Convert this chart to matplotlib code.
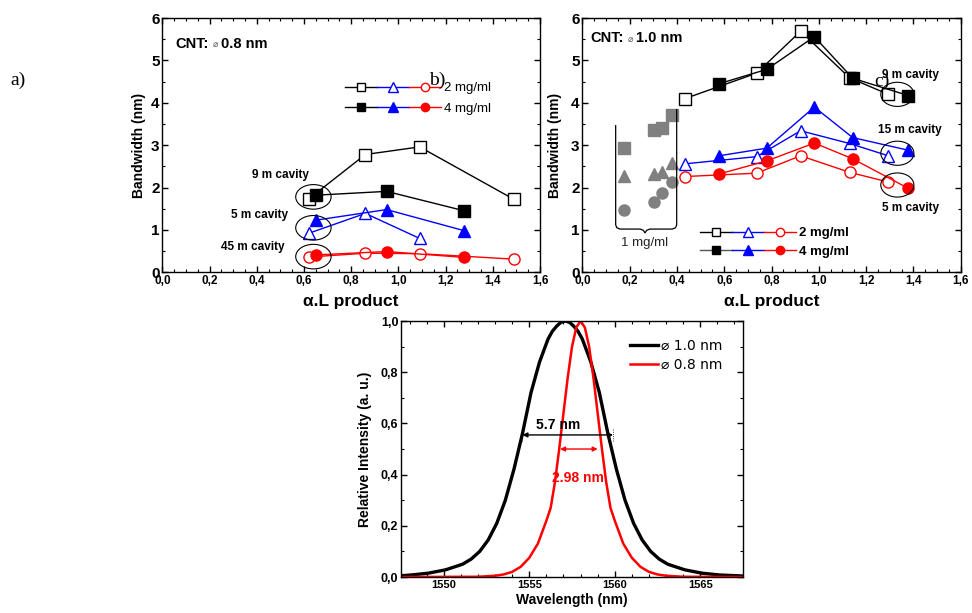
import matplotlib.pyplot as plt
import numpy as np
from matplotlib.patches import Ellipse
from matplotlib.lines import Line2D
from matplotlib.legend_handler import HandlerTuple
from matplotlib.ticker import FuncFormatter, MultipleLocator

plt.rcParams['font.family'] = ['Liberation Sans', 'DejaVu Sans']

# ---- panel b : CNT 0.8 nm ----
b_x_2mg = [0.62, 0.86, 1.09, 1.49]
b_x_2mg_5m = [0.62, 0.86, 1.09]
b_x_4mg = [0.65, 0.95, 1.28]
b_9m_2mg = [1.73, 2.78, 2.96, 1.72]
b_9m_4mg = [1.82, 1.91, 1.45]
b_5m_2mg = [0.92, 1.39, 0.80]
b_5m_4mg = [1.23, 1.48, 0.98]
b_45m_2mg = [0.36, 0.45, 0.44, 0.31]
b_45m_4mg = [0.41, 0.49, 0.35]

# ---- panel c : CNT 1.0 nm ----
c_x_2mg = [0.434, 0.737, 0.923, 1.13, 1.294]
c_x_4mg = [0.578, 0.780, 0.981, 1.143, 1.379]
c_9m_2mg = [4.10, 4.70, 5.69, 4.59, 4.20]
c_9m_4mg = [4.45, 4.79, 5.56, 4.58, 4.17]
c_15m_2mg = [2.56, 2.73, 3.34, 3.04, 2.75]
c_15m_4mg = [2.75, 2.93, 3.90, 3.18, 2.88]
c_5m_2mg = [2.26, 2.34, 2.75, 2.36, 2.13]
c_5m_4mg = [2.32, 2.63, 3.05, 2.68, 1.98]
c_x_1mg = [0.176, 0.305, 0.336, 0.378]
c_sq_1mg = [2.93, 3.35, 3.40, 3.71]
c_tri_1mg = [2.28, 2.32, 2.36, 2.58]
c_circ_1mg = [1.47, 1.67, 1.88, 2.12]

# ---- panel a : spectra ----
black_wl = [1547.5, 1548.1, 1549.1, 1550.1, 1551.1, 1551.6, 1552.1, 1552.6, 1553.1,
            1553.6, 1554.1, 1554.6, 1555.1, 1555.6, 1556.1, 1556.35, 1556.6, 1556.85,
            1557.1, 1557.35, 1557.6, 1557.85, 1558.1, 1558.6, 1559.1, 1559.6, 1560.1,
            1560.6, 1561.1, 1561.6, 1562.1, 1562.6, 1563.1, 1564.1, 1565.1, 1566.1, 1567.5]
black_int = [0.005, 0.008, 0.015, 0.028, 0.05, 0.07, 0.10, 0.145, 0.21,
             0.30, 0.42, 0.56, 0.72, 0.84, 0.93, 0.96, 0.98, 0.995,
             1.0, 0.995, 0.98, 0.96, 0.93, 0.84, 0.72, 0.56, 0.42,
             0.30, 0.21, 0.145, 0.10, 0.07, 0.05, 0.028, 0.015, 0.008, 0.004]
red_wl = [1547.5, 1552.0, 1553.0, 1553.5, 1554.0, 1554.5, 1555.0, 1555.5, 1556.0,
          1556.25, 1556.5, 1556.75, 1557.0, 1557.25, 1557.5, 1557.75, 1558.0,
          1558.25, 1558.5, 1558.75, 1559.0, 1559.25, 1559.5, 1559.75, 1560.0,
          1560.5, 1561.0, 1561.5, 1562.0, 1562.5, 1563.0, 1564.0, 1567.5]
red_int = [0.0, 0.001, 0.005, 0.01, 0.02, 0.04, 0.075, 0.13, 0.22,
           0.27, 0.37, 0.50, 0.64, 0.78, 0.90, 0.975, 1.0,
           0.975, 0.90, 0.78, 0.64, 0.50, 0.37, 0.27, 0.22,
           0.13, 0.075, 0.04, 0.02, 0.01, 0.005, 0.001, 0.0]

BLUE = '#0000ff'
RED = '#ff0000'
GRAY = '#808080'
comma = FuncFormatter(lambda v, p: f"{v:.1f}".replace('.', ','))


def style_axis(ax, xfs, yfs):
    ax.tick_params(which='both', direction='in', top=True, right=True)
    ax.tick_params(which='major', length=4, width=1)
    ax.tick_params(which='minor', length=2, width=0.8)
    for lab in ax.get_xticklabels() + ax.get_yticklabels():
        lab.set_fontweight('bold')
    ax.tick_params(axis='x', labelsize=xfs, pad=2)
    ax.tick_params(axis='y', labelsize=yfs, pad=2)
    for s in ax.spines.values():
        s.set_linewidth(1)


def series(ax, x, y, color, marker, filled, ms):
    ax.plot(x, y, color=color, lw=1, marker=marker, ms=ms,
            mfc=color if filled else 'white', mec=color, mew=1, zorder=3)


def cnt_label(ax, x, y, txt):
    t = ax.text(x, y, "CNT:", transform=ax.transAxes, fontsize=10.5,
                fontweight='bold', va='center')
    t2 = ax.annotate("\u2300", xy=(1, 0.5), xycoords=t, xytext=(3, -1),
                     textcoords='offset points', fontsize=6.5, color='#555555',
                     va='center', family=['DejaVu Sans'])
    ax.annotate(txt, xy=(1, 0.5), xycoords=t2, xytext=(2, 1),
                textcoords='offset points', fontsize=10.5, fontweight='bold', va='center')


def legend_handles(fill, first_color):
    mfc = (lambda c: c) if fill else (lambda c: 'white')
    return (Line2D([], [], color=first_color, lw=1, marker='s', ms=5.5, mfc=mfc('k'), mec='k'),
            Line2D([], [], color=BLUE, lw=1, marker='^', ms=6.5, mfc=mfc(BLUE), mec=BLUE),
            Line2D([], [], color=RED, lw=1, marker='o', ms=6, mfc=mfc(RED), mec=RED))


fig = plt.figure(figsize=(9.72, 6.13), dpi=100)

# ------------------ panel b ------------------
ax1 = fig.add_axes([0.1670, 0.5558, 0.3886, 0.4147])
series(ax1, b_x_2mg, b_9m_2mg, 'k', 's', False, 8)
series(ax1, b_x_4mg, b_9m_4mg, 'k', 's', True, 8)
series(ax1, b_x_2mg_5m, b_5m_2mg, BLUE, '^', False, 9)
series(ax1, b_x_4mg, b_5m_4mg, BLUE, '^', True, 9)
series(ax1, b_x_2mg, b_45m_2mg, RED, 'o', False, 8)
series(ax1, b_x_4mg, b_45m_4mg, RED, 'o', True, 8)
ax1.set_xlim(0, 1.6)
ax1.set_ylim(0, 6)
ax1.xaxis.set_major_locator(MultipleLocator(0.2))
ax1.xaxis.set_minor_locator(MultipleLocator(0.05))
ax1.yaxis.set_major_locator(MultipleLocator(1))
ax1.yaxis.set_minor_locator(MultipleLocator(0.5))
ax1.xaxis.set_major_formatter(comma)
style_axis(ax1, 8.5, 11)
ax1.set_xlabel("\u03b1.L product", fontsize=12.5, fontweight='bold')
ax1.xaxis.set_label_coords(0.5, -0.085)
ax1.set_ylabel("Bandwidth (nm)", fontsize=10, fontweight='bold')
ax1.yaxis.set_label_coords(-0.043, 0.5)
cnt_label(ax1, 0.034, 0.90, "0.8 nm")
for yc, lab, lx, ly in [(1.78, "9 m cavity", 0.50, 2.29), (1.05, "5 m cavity", 0.41, 1.35),
                        (0.37, "45 m cavity", 0.385, 0.59)]:
    ax1.add_patch(Ellipse((0.64, yc), 0.15, 0.58, fill=False, ec='k', lw=0.8, zorder=4))
    ax1.text(lx, ly, lab, fontsize=8.5, fontweight='bold', ha='center', va='center')
ax1.legend([legend_handles(False, 'k'), legend_handles(True, 'k')], ['2 mg/ml', '4 mg/ml'],
           handler_map={tuple: HandlerTuple(ndivide=None, pad=0)}, numpoints=1,
           loc='center left', bbox_to_anchor=(0.484, 0.684), frameon=False,
           borderpad=0, borderaxespad=0, handlelength=7.3, handletextpad=0.2,
           labelspacing=0.6, prop={'size': 9.5})

# ------------------ panel c ------------------
ax2 = fig.add_axes([0.5991, 0.5558, 0.3893, 0.4147])
series(ax2, c_x_2mg, c_9m_2mg, 'k', 's', False, 8)
series(ax2, c_x_4mg, c_9m_4mg, 'k', 's', True, 8)
series(ax2, c_x_2mg, c_15m_2mg, BLUE, '^', False, 9)
series(ax2, c_x_4mg, c_15m_4mg, BLUE, '^', True, 9)
series(ax2, c_x_2mg, c_5m_2mg, RED, 'o', False, 8)
series(ax2, c_x_4mg, c_5m_4mg, RED, 'o', True, 8)
ax2.plot(c_x_1mg, c_sq_1mg, ls='none', marker='s', ms=8, color=GRAY)
ax2.plot(c_x_1mg, c_tri_1mg, ls='none', marker='^', ms=9, color=GRAY)
ax2.plot(c_x_1mg, c_circ_1mg, ls='none', marker='o', ms=8, color=GRAY)
ax2.set_xlim(0, 1.6)
ax2.set_ylim(0, 6)
ax2.xaxis.set_major_locator(MultipleLocator(0.2))
ax2.xaxis.set_minor_locator(MultipleLocator(0.05))
ax2.yaxis.set_major_locator(MultipleLocator(1))
ax2.yaxis.set_minor_locator(MultipleLocator(0.5))
ax2.xaxis.set_major_formatter(comma)
style_axis(ax2, 8.5, 11)
ax2.set_xlabel("\u03b1.L product", fontsize=12.5, fontweight='bold')
ax2.xaxis.set_label_coords(0.5, -0.085)
ax2.set_ylabel("Bandwidth (nm)", fontsize=10, fontweight='bold')
ax2.yaxis.set_label_coords(-0.054, 0.5)
cnt_label(ax2, 0.02, 0.92, "1.0 nm")
for yc in [4.20, 2.81, 2.06]:
    ax2.add_patch(Ellipse((1.332, yc), 0.14, 0.57, fill=False, ec='k', lw=0.8, zorder=4))
ax2.text(1.266, 4.65, "9 m cavity", fontsize=8.5, fontweight='bold', va='center')
ax2.text(1.252, 3.35, "15 m cavity", fontsize=8.5, fontweight='bold', va='center')
ax2.text(1.266, 1.51, "5 m cavity", fontsize=8.5, fontweight='bold', va='center')
# bracket for the 1 mg/ml points
bx = [0.141, 0.141, 0.146, 0.160, 0.245, 0.258, 0.265, 0.272, 0.285, 0.380, 0.394, 0.399, 0.399]
by = [3.46, 1.12, 1.05, 1.02, 1.02, 0.99, 0.93, 0.99, 1.02, 1.02, 1.05, 1.12, 3.84]
ax2.plot(bx, by, color='k', lw=0.9)
ax2.text(0.265, 0.70, "1 mg/ml", fontsize=9.5, ha='center', va='center', color='#222222')
ax2.legend([legend_handles(False, 'k'), legend_handles(True, '#555555')], ['2 mg/ml', '4 mg/ml'],
           handler_map={tuple: HandlerTuple(ndivide=None, pad=0)}, numpoints=1,
           loc='center left', bbox_to_anchor=(0.311, 0.117), frameon=False,
           borderpad=0, borderaxespad=0, handlelength=7.3, handletextpad=0.2,
           labelspacing=0.5, prop={'size': 9.5, 'weight': 'bold'})

# ------------------ panel a ------------------
ax3 = fig.add_axes([0.4126, 0.0587, 0.3518, 0.4176])
ax3.plot(black_wl, black_int, color='k', lw=2.4, label="\u2300 1.0 nm")
ax3.plot(red_wl, red_int, color=RED, lw=1.8, label="\u2300 0.8 nm")
ax3.set_xlim(1547.5, 1567.5)
ax3.set_ylim(0, 1.0)
ax3.xaxis.set_major_locator(MultipleLocator(5))
ax3.xaxis.set_minor_locator(MultipleLocator(1))
ax3.yaxis.set_major_locator(MultipleLocator(0.2))
ax3.yaxis.set_minor_locator(MultipleLocator(0.1))
ax3.yaxis.set_major_formatter(comma)
style_axis(ax3, 8, 9)
ax3.set_xlabel("Wavelength (nm)", fontsize=10, fontweight='bold')
ax3.xaxis.set_label_coords(0.5, -0.062)
ax3.set_ylabel("Relative Intensity (a. u.)", fontsize=10, fontweight='bold')
ax3.yaxis.set_label_coords(-0.085, 0.5)
ax3.annotate('', xy=(1554.6, 0.555), xytext=(1559.9, 0.555),
             arrowprops=dict(arrowstyle='<|-|>', color='k', lw=1, mutation_scale=7,
                             shrinkA=0, shrinkB=0))
for xe in [1554.6, 1559.9]:
    ax3.plot([xe, xe], [0.53, 0.58], color='k', lw=0.6, ls=':')
ax3.text(1556.7, 0.594, "5.7 nm", fontsize=10, fontweight='bold', ha='center', va='center')
ax3.annotate('', xy=(1556.8, 0.50), xytext=(1559.0, 0.50),
             arrowprops=dict(arrowstyle='<|-|>', color=RED, lw=1, mutation_scale=7,
                             shrinkA=0, shrinkB=0))
ax3.text(1557.85, 0.385, "2.98 nm", fontsize=10, fontweight='bold', ha='center',
         va='center', color=RED)
ax3.legend(loc='center left', bbox_to_anchor=(0.67, 0.867), frameon=False,
           borderpad=0, borderaxespad=0, handlelength=2.0, handletextpad=0.2,
           labelspacing=0.35, prop={'size': 10, 'family': ['DejaVu Sans']})

# panel letters
for x, y, s in [(0.0185, 0.8695, "a)"), (0.4496, 0.8695, "b)"), (0.907, 0.8667, "c)")]:
    fig.text(x, y, s, fontsize=14, family='Liberation Serif', ha='center', va='center')

fig.savefig('out.png', dpi=100)
